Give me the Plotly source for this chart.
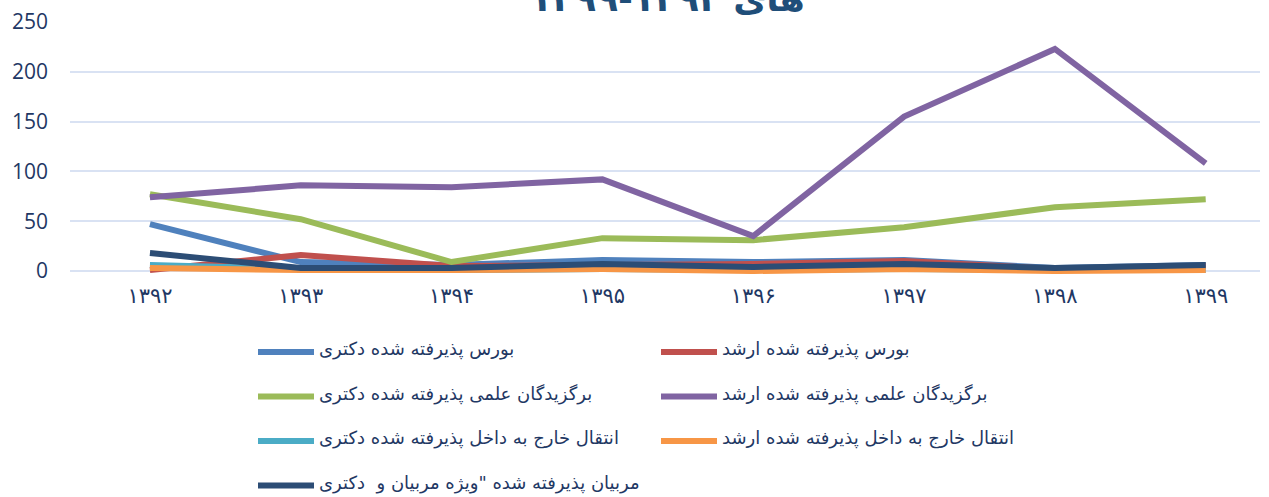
import plotly.graph_objects as go

years = ["۱۳۹۲", "۱۳۹۳", "۱۳۹۴", "۱۳۹۵", "۱۳۹۶", "۱۳۹۷", "۱۳۹۸", "۱۳۹۹"]

bourse_phd = [47, 9, 6, 11, 9, 11, 3, 6]
bourse_ms = [1, 16, 5, 6, 7, 10, 2, 5]
elite_phd = [77, 52, 9, 33, 31, 44, 64, 72]
elite_ms = [74, 86, 84, 92, 35, 155, 223, 108]
transfer_phd = [6, 2, 1, 2, 1, 2, 1, 1]
transfer_ms = [3, 1, 1, 2, 0, 2, 0, 1]
educator_phd = [18, 3, 3, 7, 4, 7, 3, 6]

names = [
    "بورس پذیرفته شده دکتری",
    "بورس پذیرفته شده ارشد",
    "برگزیدگان علمی پذیرفته شده دکتری",
    "برگزیدگان علمی پذیرفته شده ارشد",
    "انتقال خارج به داخل پذیرفته شده دکتری",
    "انتقال خارج به داخل پذیرفته شده ارشد",
    "مربیان پذیرفته شده \"ویژه مربیان و  دکتری",
]
series = [bourse_phd, bourse_ms, elite_phd, elite_ms, transfer_phd, transfer_ms, educator_phd]
colors = ["#4F81BD", "#C0504D", "#9BBB59", "#8064A2", "#4BACC6", "#F79646", "#2C4D75"]

title_text = "های ۱۳۹۲-۱۳۹۹"

fig = go.Figure()
for name, vals, col in zip(names, series, colors):
    fig.add_trace(go.Scatter(
        x=years, y=vals, mode="lines",
        name='<span style="font-size:18px;baseline-shift:3px">' + name + '</span><br> ',
        line=dict(color=col, width=6),
    ))

fig.update_layout(
    width=1269, height=497,
    margin=dict(l=70, r=9, t=22, b=223, autoexpand=False),
    paper_bgcolor="white", plot_bgcolor="white",
    font=dict(family="DejaVu Sans", color="#1F3864"),
    showlegend=True,
    legend=dict(
        orientation="h", x=(253 - 70) / 1190, xanchor="left", y=-0.2425, yanchor="top",
        entrywidth=332, entrywidthmode="pixels", itemwidth=56,
        font=dict(family="DejaVu Sans", size=15.96, color="#1F3864"),
        valign="top", traceorder="normal",
    ),
    xaxis=dict(
        type="category", range=[-0.53, 7.36],
        showgrid=False, showline=False, zeroline=False, ticks="",
        tickfont=dict(family="DejaVu Sans", size=21, color="#1F3864"),
        ticklabelstandoff=7,
    ),
    yaxis=dict(
        range=[-3, 250], tickvals=[0, 50, 100, 150, 200, 250],
        showgrid=True, gridcolor="#D9E2F3", gridwidth=1.5,
        zeroline=False, showline=False, ticks="",
        tickfont=dict(family="Open Sans", size=21, color="#1F3864"),
        ticklabelstandoff=21,
    ),
    annotations=[dict(
        text="<b>" + title_text + "</b>", xref="paper", yref="paper",
        x=0.502, y=1.004, xanchor="center", yanchor="bottom", showarrow=False,
        font=dict(family="DejaVu Sans", size=36, color="#1F4E79"),
    )],
)

fig.write_html(
    "out.html",
    config={"displayModeBar": False},
    post_script="document.body.style.margin='0px';",
)
